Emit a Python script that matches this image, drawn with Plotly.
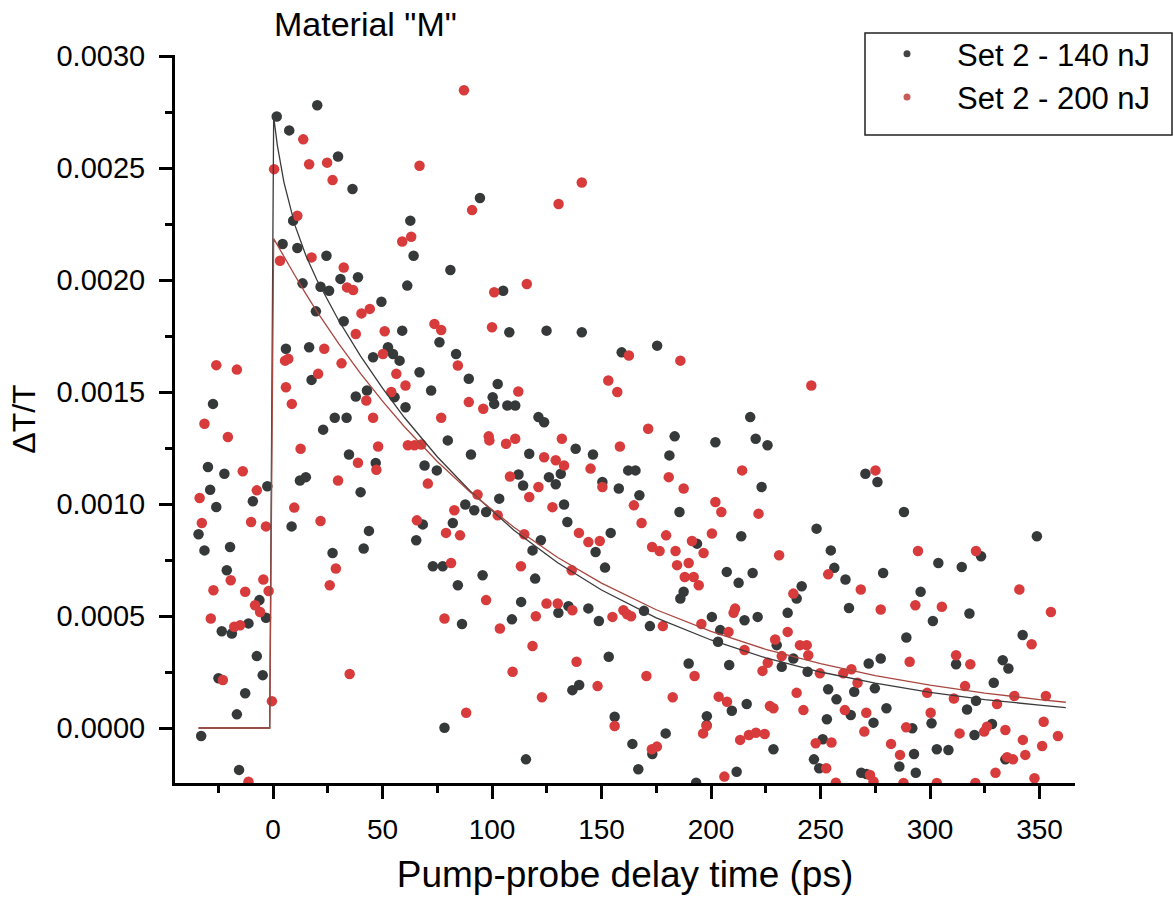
import plotly.graph_objects as go

# ---------------- data ----------------
dark_t = [-27.4, -29.7, -22.2, -2.6, -28.7, -9.2, -25.9, -34.0, -31.3, -19.6, -21.1, -6.2, -3.2, -23.4, -18.8,
          -11.2, -7.4, -24.9, -4.7, -12.7, -16.5, -32.8, -15.5,
          1.7, 7.4, 20.2, 29.7, 36.3, 9.2, 4.4, 11.1, 24.4, 13.5, 21.7, 25.6, 30.8, 38.8, 19.6, 32.3, 49.5, 59.0,
          61.3, 62.7, 64.2, 81.0, 76.0, 83.6, 5.9, 16.5, 45.7, 52.5, 54.8, 57.8, 66.9, 17.6, 37.8, 42.9, 72.2,
          55.5, 60.5, 28.2, 33.6, 22.9, 79.8, 34.7, 46.9, 69.2, 74.8, 12.3, 15.0, 40.0, 8.5, 43.8, 41.4, 27.2,
          68.4, 65.4, 73.0, 77.5, 82.1, 84.4, 86.3, 78.3,
          94.5, 105.1, 107.9, 124.9, 141.0, 175.4, 159.2, 89.4, 102.6, 100.3, 101.0, 107.0, 110.6, 121.2, 123.8,
          183.4, 138.2, 146.1, 117.0, 181.0, 90.4, 131.4, 112.1, 162.2, 165.5, 126.0, 129.1, 150.4, 157.9, 114.2,
          167.3, 103.3, 87.8, 91.9, 97.3, 132.9, 134.4, 154.2, 122.3, 147.3, 118.5, 95.7, 151.6, 119.7, 109.1,
          113.3, 130.3, 134.9, 144.0, 136.7, 139.8, 115.5, 148.8, 153.3, 169.4, 172.1, 156.0, 164.1, 173.2,
          179.3, 166.8,
          185.6, 288.1, 248.2, 348.8, 213.8, 193.6, 323.3, 254.7, 303.8, 314.5, 207.2, 219.0, 256.3, 261.4, 278.6,
          212.6, 241.4, 295.7, 187.5, 186.0, 239.1, 263.0, 318.0, 301.3, 200.4, 215.3, 221.3, 235.0, 204.2, 203.2,
          289.2, 342.3, 230.0, 237.6, 272.0, 277.5, 311.9, 333.2, 335.8, 189.8, 208.3, 232.3, 244.1, 253.5, 257.3,
          265.4, 274.8, 321.0, 329.1, 209.5, 216.3, 280.1, 316.9, 198.1, 217.9, 202.0, 220.4, 225.8, 223.1, 270.5,
          276.0,
          193.2, 198.0, 211.7, 228.5, 247.0, 249.4, 251.0, 252.9, 263.8, 268.6, 271.0, 274.2, 286.0, 291.9, 292.7,
          293.5, 300.7, 303.1, 308.4, 320.3, 328.3, 334.4]
dark_v = [0.001447, 0.001165, 0.001135, 0.001079, 0.001064, 0.001012, 0.000987, 0.000865, 0.000793, 0.000808,
          0.000704, 0.000571, 0.000492, 0.000432, 0.000422, 0.000467, 0.000321, 0.000222, 0.000236, 0.000155,
          0.000061, -0.000036, -0.000187,
          0.00273, 0.002668, 0.00278, 0.002551, 0.002406, 0.002265, 0.002161, 0.002143, 0.002108, 0.001985,
          0.00197, 0.001952, 0.002005, 0.002012, 0.00186, 0.001816, 0.001903, 0.001774, 0.001975, 0.002265,
          0.002108, 0.002045, 0.001722, 0.00167, 0.001693, 0.0017, 0.001655, 0.0017, 0.00167, 0.00164, 0.001588,
          0.001554, 0.00148, 0.001507, 0.001507, 0.001477, 0.001432, 0.001385, 0.001385, 0.001332, 0.001284,
          0.001221, 0.001183, 0.001172, 0.00115, 0.001105, 0.00112, 0.001053, 0.0009, 0.00088, 0.000801,
          0.000781, 0.000909, 0.000838, 0.000722, 0.000722, 0.000915, 0.000637, 0.000464, 0.000001,
          0.002366, 0.001952, 0.001767, 0.001774, 0.001767, 0.001707, 0.001677, 0.001559, 0.001536, 0.001477,
          0.001447, 0.00144, 0.00144, 0.001388, 0.001365, 0.001302, 0.001247, 0.001221, 0.001224, 0.001217,
          0.001221, 0.001135, 0.001132, 0.00115, 0.00115, 0.00112, 0.001088, 0.001098, 0.001069, 0.001083,
          0.001039, 0.001024, 0.000998, 0.000972, 0.000964, 0.000998, 0.00092, 0.000871, 0.000838, 0.000786,
          0.000793, 0.000682, 0.000716, 0.000667, 0.000485, 0.000563, 0.000514, 0.000544, 0.000534, 0.000169,
          0.000192, -0.00014, 0.000478, 0.000318, 0.000523, 0.000455, 0.00005, -0.000071, -0.000116, -0.000024,
          -0.000184,
          0.000964, 0.000964, 0.00089, 0.000856, 0.000856, 0.000823, 0.000767, 0.000793, 0.000737, 0.000719,
          0.000697, 0.000692, 0.000715, 0.000663, 0.000692, 0.000648, 0.000633, 0.000608, 0.000608, 0.000578,
          0.000578, 0.000536, 0.000511, 0.000478, 0.000496, 0.000481, 0.000496, 0.000514, 0.000437, 0.000385,
          0.000404, 0.000415, 0.00037, 0.00031, 0.000288, 0.00031, 0.000285, 0.000303, 0.000266, 0.000288,
          0.000281, 0.000273, 0.000251, 0.000173, 0.000128, 0.000162, 0.000177, 0.000122, 0.000202, 0.000077,
          0.000107, 0.000088, 0.000083, 0.000053, 0.001388, 0.001276, 0.001291, 0.001262, 0.001076, 0.001135,
          0.001098,
          -0.000244, 0.000013, -0.000195, -0.000095, -0.00014, -0.00018, -0.00005, 0.000039, 0.000058, -0.0002,
          -0.000205, 0.000024, -0.000172, -0.000001, -0.000116, -0.0002, 0.000021, -0.000095, -0.000098,
          -0.000031, 0.000018, -0.00014]

red_t = [-31.3, -20.6, -13.8, -7.4, -33.5, -32.5, -10.0, -3.2, -19.3, -27.2, -12.7, -4.4, -2.0, -8.2, -5.9,
         -28.4, -17.7, -15.0, -22.9, -0.5, -11.2, -25.9, -16.5,
         0.5, 13.8, 16.5, 24.7, 27.2, 66.9, 11.1, 63.1, 59.0, 3.2, 17.6, 32.3, 33.8, 36.6, 40.4, 44.2, 37.8, 51.0,
         73.7, 76.8, 23.4, 5.5, 7.0, 31.3, 50.2, 56.3, 20.6, 60.5, 5.9, 54.0, 84.4, 8.6, 42.6, 45.7, 76.8, 61.6,
         64.6, 67.7, 48.0, 12.6, 38.8, 47.2, 70.7, 29.7, 9.7, 21.7, 28.7, 25.9, 82.8, 65.7, 79.0, 85.4, 81.3,
         35.0, 78.3, 88.2,
         87.2, 141.0, 130.4, 90.9, 101.0, 115.9, 100.0, 162.5, 186.0, 153.1, 157.2, 112.0, 89.4, 96.0, 171.3,
         98.5, 98.8, 106.4, 110.6, 131.9, 158.4, 123.8, 129.1, 132.9, 145.0, 108.2, 180.7, 150.4, 187.5, 121.2,
         117.0, 93.4, 102.6, 127.6, 164.8, 168.3, 114.7, 139.7, 144.0, 149.2, 179.5, 173.1, 176.5, 183.8, 113.2,
         136.4, 184.5, 188.0, 97.3, 103.6, 120.0, 118.5, 109.4, 122.8, 124.9, 130.0, 136.7, 138.6, 148.2, 155.0,
         160.0, 161.7, 163.5, 178.0, 170.5, 182.5, 156.0, 173.0, 175.3,
         202.0, 204.7, 221.7, 200.4, 191.3, 196.6, 294.5, 321.0, 231.1, 189.8, 253.5, 192.1, 194.4, 237.6, 268.4,
         340.8, 277.5, 293.3, 305.4, 355.2, 210.3, 211.0, 195.6, 208.0, 215.3, 235.0, 346.4, 229.3, 240.6, 243.7,
         244.4, 232.3, 290.7, 311.9, 318.4, 192.5, 225.9, 223.5, 249.7, 260.4, 264.1, 266.9, 298.7, 316.0, 310.9,
         330.6, 338.5, 352.9, 239.1, 203.5, 207.3, 226.9, 228.5, 242.2, 261.1, 270.9, 300.3, 245.8, 214.2, 275.1,
         196.4, 198.0, 206.1, 213.3, 217.3, 220.5, 224.5, 247.8, 252.6, 255.0, 257.0, 270.0, 272.6, 274.2, 282.2,
         286.3, 289.1, 287.9, 303.1, 313.5, 320.7, 324.7, 326.0, 329.9, 334.4, 335.2, 337.9, 342.4, 343.5, 347.7,
         351.2, 358.4, 351.9]
red_v = [0.001358, 0.001299, 0.001146, 0.001061, 0.001027, 0.000915, 0.00092, 0.0009, 0.00066, 0.000615,
         0.000608, 0.000663, 0.000612, 0.000548, 0.000518, 0.000489, 0.000452, 0.000459, 0.000214, 0.00012,
         -0.00024, 0.00162, 0.0016,
         0.002495, 0.002628, 0.002517, 0.002524, 0.002446, 0.00251, 0.002287, 0.002193, 0.002172, 0.002086,
         0.002101, 0.002056, 0.001967, 0.001955, 0.001851, 0.001871, 0.001759, 0.001771, 0.001804, 0.001777,
         0.001693, 0.00164, 0.001648, 0.001628, 0.00167, 0.001581, 0.001581, 0.001529, 0.001521, 0.0015,
         0.001618, 0.001447, 0.001462, 0.001385, 0.001385, 0.001262, 0.001262, 0.001266, 0.001257, 0.001247,
         0.001184, 0.001153, 0.001091, 0.001105, 0.000984, 0.000924, 0.000712, 0.000637, 0.000972, 0.000927,
         0.000871, 0.00086, 0.000737, 0.000241, 0.000489, 0.000068,
         0.002847, 0.002435, 0.002339, 0.002312, 0.001945, 0.001982, 0.001789, 0.001663, 0.00164, 0.001551,
         0.0015, 0.001502, 0.001455, 0.001425, 0.001336, 0.001302, 0.001284, 0.001269, 0.001291, 0.001291,
         0.001257, 0.001209, 0.001195, 0.001172, 0.001158, 0.001123, 0.00112, 0.001076, 0.001069, 0.001076,
         0.001031, 0.001042, 0.00095, 0.000986, 0.000994, 0.000915, 0.000865, 0.000871, 0.00083, 0.000835,
         0.00086, 0.000808, 0.00079, 0.00079, 0.000722, 0.000704, 0.000727, 0.000674, 0.000571, 0.000444,
         0.000499, 0.000366, 0.000251, 0.000137, 0.000556, 0.000556, 0.000526, 0.000296, 0.000187, 0.000496,
         0.000526, 0.000508, 0.000499, 0.000455, 0.000232, 0.000137, 0.000009, -0.000095, -0.000083,
         0.001009, 0.000964, 0.000957, 0.000868, 0.000835, 0.000781, 0.00079, 0.00079, 0.000771, 0.000737,
         0.000686, 0.000674, 0.000637, 0.0006, 0.000618, 0.000618, 0.000529, 0.000548, 0.000541, 0.000518,
         0.000514, 0.000533, 0.000464, 0.000429, 0.000348, 0.000429, 0.000374, 0.000395, 0.00037, 0.00037,
         0.000325, 0.000321, 0.000296, 0.000325, 0.000285, 0.000232, 0.000291, 0.000255, 0.000244, 0.000244,
         0.000262, 0.000202, 0.000157, 0.000187, 0.000132, 0.000107, 0.000143, 0.000143, 0.000157, 0.00014,
         0.000117, 0.000098, 0.000088, 0.00008, 0.00008, 0.000068, 0.000068, 0.001529, 0.00115, 0.00115,
         -0.000024, 0.000009, -0.000217, -0.000053, -0.000031, -0.000021, -0.000027, -0.000068, -0.00018,
         -0.000065, -0.000244, -0.000016, -0.00021, -0.000239, -0.000071, -0.00012, 0.000003, -0.000245,
         -0.000245, -0.000024, -0.000245, -0.000016, 0.000006, -0.0002, -0.000009, -0.00013, -0.00014,
         -0.000053, -0.00012, -0.000224, -0.00008, -0.000036, 0.000028]

# fitted curves
fit_t = [-34, -1.5, 0.3, 2, 5, 10, 15, 20, 30, 40, 50, 60, 75, 90, 110, 130, 150, 175, 200, 225, 250, 275,
         300, 325, 350, 362]
fit_dark = [0, 0, 0.00273, 0.00260, 0.002436, 0.002245, 0.002109, 0.002001, 0.001819, 0.00166, 0.001517,
            0.001386, 0.001211, 0.001058, 0.000883, 0.000738, 0.000616, 0.000492, 0.000393, 0.000313, 0.00025,
            0.0002, 0.000159, 0.000127, 0.000102, 0.0000912]
fit_red = [0, 0, 0.002185, 0.002155, 0.002103, 0.00202, 0.001938, 0.00186, 0.001716, 0.001582, 0.001459,
           0.001345, 0.00119, 0.001054, 0.000896, 0.000761, 0.000647, 0.000528, 0.000431, 0.000351, 0.000287,
           0.000234, 0.000191, 0.000156, 0.000127, 0.000115]

series_names = ["Set 2 - 140 nJ", "Set 2 - 200 nJ"]
DARK = "#363939"
RED = "#d83b3b"
DARK_LINE = "#3a3a3a"
RED_LINE = "#a8473f"
FONT = "Arial, Liberation Sans, sans-serif"

fig = go.Figure()
fig.add_trace(go.Scatter(x=dark_t, y=dark_v, mode="markers", showlegend=False,
                         marker=dict(color=DARK, size=10.5, line=dict(width=0))))
fig.add_trace(go.Scatter(x=red_t, y=red_v, mode="markers", showlegend=False,
                         marker=dict(color=RED, size=10.5, line=dict(width=0))))
fig.add_trace(go.Scatter(x=fit_t, y=fit_dark, mode="lines", showlegend=False,
                         line=dict(color=DARK_LINE, width=1.3)))
fig.add_trace(go.Scatter(x=fit_t, y=fit_red, mode="lines", showlegend=False,
                         line=dict(color=RED_LINE, width=1.3)))
# legend entries
fig.add_trace(go.Scatter(x=[None], y=[None], mode="markers", name=series_names[0],
                         marker=dict(color="#444444", size=7)))
fig.add_trace(go.Scatter(x=[None], y=[None], mode="markers", name=series_names[1],
                         marker=dict(color="#c85a5a", size=7)))

L, R, T, B = 175, 99, 55, 117
PW, PH = 1174 - L - R, 900 - T - B


def px(xp):
    return (xp - L) / PW


def py(yp):
    return (900 - B - yp) / PH


fig.update_layout(
    width=1174, height=900,
    margin=dict(l=L, r=R, t=T, b=B),
    paper_bgcolor="white", plot_bgcolor="white",
    font=dict(family=FONT, color="black"),
    legend=dict(x=px(857), y=py(27), xanchor="left", yanchor="top",
                font=dict(size=31, family=FONT, color="black"),
                bgcolor="rgba(0,0,0,0)", borderwidth=0, itemwidth=90,
                tracegroupgap=0),
    shapes=[dict(type="rect", xref="paper", yref="paper",
                 x0=px(865), x1=px(1172), y0=py(135), y1=py(33),
                 line=dict(color="#222222", width=1.5), fillcolor="rgba(0,0,0,0)")],
    annotations=[dict(text='Material "M"', xref="paper", yref="paper",
                      x=px(272), y=py(24), xanchor="left", yanchor="middle",
                      showarrow=False, font=dict(size=34, family=FONT, color="black"))],
    xaxis=dict(range=[-44.75, 366.2], showgrid=False, zeroline=False,
               showline=True, linecolor="black", linewidth=3,
               ticks="outside", ticklen=13, tickwidth=2.5, tickcolor="black",
               tick0=0, dtick=50, tickfont=dict(size=28, family=FONT, color="black"),
               ticklabelstandoff=6,
               minor=dict(ticks="outside", ticklen=7, tickwidth=2.5, tickcolor="black", dtick=25, tick0=0),
               title=dict(text="Pump-probe delay time (ps)", font=dict(size=37, family=FONT, color="black"),
                          standoff=18),
               automargin=False),
    yaxis=dict(range=[-0.0002455, 0.0030045], showgrid=False, zeroline=False,
               showline=True, linecolor="black", linewidth=3,
               ticks="outside", ticklen=13, tickwidth=2.5, tickcolor="black",
               tick0=0, dtick=0.0005, tickformat=".4f",
               tickfont=dict(size=29, family=FONT, color="black"),
               ticklabelstandoff=8,
               minor=dict(ticks="outside", ticklen=7, tickwidth=2.5, tickcolor="black", dtick=0.00025, tick0=0),
               title=dict(text="ΔT/T", font=dict(size=32, family=FONT, color="black"), standoff=12),
               automargin=False),
)

fig.write_html("out.html")
